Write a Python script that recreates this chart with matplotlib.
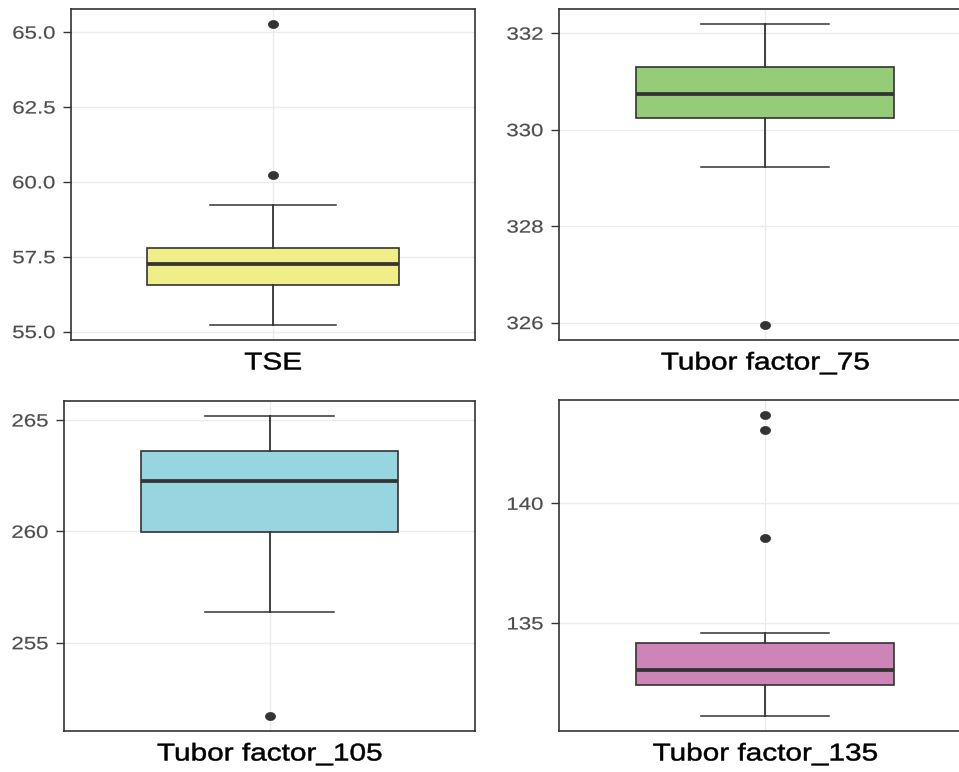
import matplotlib
matplotlib.use("Agg")
import matplotlib.pyplot as plt
from matplotlib.patheffects import AbstractPathEffect
from matplotlib.transforms import Affine2D
from matplotlib.path import Path

plt.rcParams['font.family'] = ['Liberation Sans', 'DejaVu Sans']

# box statistics (whisker low, q1, median, q3, whisker high)
names = ["TSE", "Tubor factor_75", "Tubor factor_105", "Tubor factor_135"]
whislo = [55.22, 329.23, 256.40, 131.11]
q1 = [56.56, 330.25, 259.98, 132.42]
med = [57.26, 330.73, 262.28, 133.05]
q3 = [57.80, 331.30, 263.59, 134.18]
whishi = [59.24, 332.19, 265.18, 134.58]
outliers = [[60.24, 65.27], [325.95], [251.71], [138.53, 143.08, 143.69]]
yticks = [[55.0, 57.5, 60.0, 62.5, 65.0], [326, 328, 330, 332], [255, 260, 265], [135, 140]]
tickfmt = ["{:.1f}", "{:.0f}", "{:.0f}", "{:.0f}"]
fills = ["#F0EE88", "#94CC78", "#97D6E0", "#CC85B6"]

# the source picture is squeezed sideways, so text and dots come out wider than tall
SX = 1.25


class Stretch(AbstractPathEffect):
    # widen a text path about its right edge or its centre, optionally with a thin outline
    def __init__(self, sx, anchor="center", stroke=0.0):
        super().__init__()
        self.sx = sx
        self.anchor = anchor
        self.stroke = stroke

    def draw_path(self, renderer, gc, tpath, affine, rgbFace=None):
        ext = tpath.get_extents(affine)
        cx = ext.x1 if self.anchor == "right" else (ext.x0 + ext.x1) / 2
        a = affine + Affine2D().translate(-cx, 0).scale(self.sx, 1).translate(cx, 0)
        gc0 = renderer.new_gc()
        gc0.copy_properties(gc)
        if self.stroke > 0 and rgbFace is not None:
            gc0.set_foreground(rgbFace)
            gc0.set_linewidth(self.stroke)
        renderer.draw_path(gc0, tpath, a, rgbFace)
        gc0.restore()


dot = Path.unit_circle().transformed(Affine2D().scale(SX, 1))

W, H = 959, 772
fig = plt.figure(figsize=(W / 100, H / 100), dpi=100)

# panel frames in pixels: left, right, top, bottom (right column runs off the edge)
frames = [(71, 475, 9, 340), (559, 971, 9, 340), (64, 475, 401, 731), (559, 971, 400, 731)]

for i in range(4):
    l, r, t, b = frames[i]
    ax = fig.add_axes([l / W, 1 - b / H, (r - l) / W, (b - t) / H])
    stats = [{
        "whislo": whislo[i], "q1": q1[i], "med": med[i], "q3": q3[i],
        "whishi": whishi[i], "fliers": outliers[i],
    }]
    ax.bxp(stats, positions=[1], widths=0.75, patch_artist=True, showfliers=True,
           boxprops=dict(facecolor=fills[i], edgecolor="#333333", linewidth=1.2),
           medianprops=dict(color="#333333", linewidth=2.7, solid_capstyle="butt"),
           whiskerprops=dict(color="#333333", linewidth=1.3),
           capprops=dict(color="#333333", linewidth=1.1),
           capwidths=0.375,
           flierprops=dict(marker=dot, markersize=7.3, markerfacecolor="#333333",
                           markeredgecolor="#333333", markeredgewidth=0.5),
           zorder=3)
    ax.set_xlim(0.4, 1.6)
    allv = [whislo[i], whishi[i]] + outliers[i]
    lo, hi = min(allv), max(allv)
    pad = (hi - lo) * 0.05
    ax.set_ylim(lo - pad, hi + pad)
    ax.set_yticks(yticks[i])
    ax.set_yticklabels([tickfmt[i].format(v) for v in yticks[i]])
    ax.set_xticks([1])
    ax.set_xticklabels([names[i]])
    ax.grid(True, color="#EBEBEB", linewidth=1.0, zorder=0)
    ax.set_axisbelow(True)
    ax.tick_params(axis="y", colors="#333333", labelcolor="#4D4D4D", labelsize=12.8,
                   length=5.8, width=1, pad=5.5)
    ax.tick_params(axis="x", colors="#333333", labelcolor="black", labelsize=17.5,
                   length=0, width=1, pad=9)
    for lbl in ax.get_yticklabels():
        lbl.set_path_effects([Stretch(SX, "right", 0.15)])
    for lbl in ax.get_xticklabels():
        lbl.set_path_effects([Stretch(SX * 0.98, "center", 0.35)])
    for s in ax.spines.values():
        s.set_color("#333333")
        s.set_linewidth(1.2)

fig.savefig("out.png", dpi=100)
